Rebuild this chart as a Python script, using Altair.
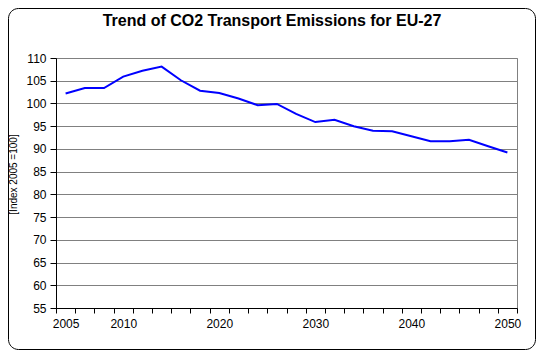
import altair as alt
import pandas as pd

# ---- data ----
years = ["2005", "2006", "2008", "2010", "2012", "2014", "2016", "2018",
         "2020", "2022", "2024", "2026", "2028", "2030", "2032", "2034",
         "2036", "2038", "2040", "2042", "2044", "2046", "2048", "2050"]
values = [102.2, 103.4, 103.4, 105.9, 107.2, 108.1, 105.1, 102.8,
          102.3, 101.1, 99.6, 99.9, 97.7, 95.9, 96.4, 95.0,
          94.0, 93.9, 92.8, 91.7, 91.7, 92.0, 90.6, 89.2]
shown_labels = ["2005", "2010", "2020", "2030", "2040", "2050"]
y_ticks = [55, 60, 65, 70, 75, 80, 85, 90, 95, 100, 105, 110]
title_text = "Trend of CO2 Transport Emissions for EU-27"
y_title = "[Index 2005 =100]"

df = pd.DataFrame({"idx": list(range(len(years))), "year": years, "value": values})

W, H = 461, 250
PAD_L, PAD_T = 48, 50
TOTAL_W, TOTAL_H = 528, 342
FONT = "Liberation Sans"

n = len(years)
label_arr = "[" + ",".join("'" + (y if y in shown_labels else "") + "'" for y in years) + "]"
label_expr = f"{label_arr}[datum.value + 0.5] || ''"

line = alt.Chart(df).mark_line(color="#0000FF", strokeWidth=2).encode(
    x=alt.X("idx:Q",
            scale=alt.Scale(domain=[-0.5, n - 0.5], nice=False, zero=False),
            axis=alt.Axis(values=[i - 0.5 for i in range(n + 1)],
                          labelExpr=label_expr,
                          labelOffset=W / n / 2,
                          labelFlush=False, labelOverlap=False,
                          title=None, grid=False,
                          tickSize=5, tickColor="black", domainColor="black",
                          labelFont=FONT, labelFontSize=12, labelColor="black",
                          labelPadding=5)),
    y=alt.Y("value:Q",
            scale=alt.Scale(domain=[55, 110], nice=False, zero=False),
            axis=alt.Axis(values=y_ticks, grid=True, gridColor="#808080",
                          gridOpacity=1, tickSize=6, tickColor="black",
                          domainColor="black", labelFont=FONT, labelFontSize=12,
                          labelColor="black", labelPadding=4,
                          title=y_title, titleFont=FONT, titleFontSize=10,
                          titleFontWeight="normal", titleColor="black",
                          titleAngle=-90, titleX=-42.5, titleY=116,
                          titleAlign="center", titleBaseline="middle"))
)

one = pd.DataFrame({"a": [0]})
frame = alt.Chart(one).mark_rect(
    fill="white", fillOpacity=0, stroke="black", strokeWidth=1, cornerRadius=10
).encode(
    x=alt.value(-PAD_L + 0.5), x2=alt.value(TOTAL_W - PAD_L - 0.5),
    y=alt.value(-PAD_T + 0.5), y2=alt.value(TOTAL_H - PAD_T - 0.5)
)

title = alt.Chart(one).mark_text(
    text=title_text, font=FONT, fontSize=16, fontWeight="bold",
    align="center", baseline="middle", color="black"
).encode(x=alt.value(216), y=alt.value(-37))

chart = alt.layer(frame, line, title).properties(
    width=W, height=H,
    autosize=alt.AutoSizeParams(type="none"),
    padding={"left": PAD_L, "top": PAD_T,
             "right": TOTAL_W - PAD_L - W, "bottom": TOTAL_H - PAD_T - H},
    background="white"
).configure_view(stroke="#808080", strokeWidth=1)

chart.save("out.html", embed_options={"renderer": "svg", "actions": False})
